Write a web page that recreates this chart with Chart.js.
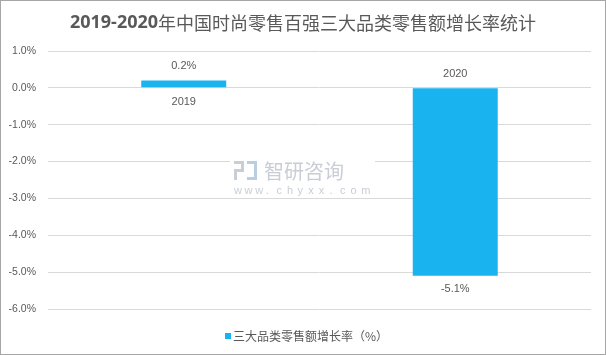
<!DOCTYPE html>
<html>
<head>
<meta charset="utf-8">
<script src="https://cdn.jsdelivr.net/npm/chart.js@4/dist/chart.umd.min.js"></script>
<style>
html,body{margin:0;padding:0;background:#fff;}
#wrap{width:606px;height:355px;position:relative;}
</style>
</head>
<body>
<div id="wrap"><canvas id="c" width="606" height="355"></canvas></div>
<script>
const titleText = '2019-2020年中国时尚零售百强三大品类零售额增长率统计';
const categories = ['2019', '2020'];
const seriesName = '三大品类零售额增长率（%）';
const growthRates = [0.2, -5.1];
const yTicks = [1, 0, -1, -2, -3, -4, -5, -6];

const textColor = '#595959';
const barColor = '#19B3EF';
const sansFont = '"Liberation Sans", "DejaVu Sans", sans-serif';
const cjkFont = '"Noto Sans CJK SC", "Liberation Sans", sans-serif';

const decorPlugin = {
  id: 'decor',
  beforeDatasetsDraw(chart) {
    const ctx = chart.ctx;
    // watermark
    ctx.save();
    ctx.fillStyle = '#fff';
    ctx.fillRect(230, 156, 145, 42);
    ctx.fillStyle = '#c9cdd5';
    // simple logo
    ctx.fillRect(234, 161, 10, 3);
    ctx.fillRect(241, 161, 3, 11);
    ctx.fillRect(234, 169, 10, 3);
    ctx.fillRect(234, 169, 3, 11);
    ctx.fillStyle = '#b9cde3';
    ctx.fillRect(247, 161, 10, 3);
    ctx.fillRect(254, 161, 3, 19);
    ctx.fillRect(247, 177, 10, 3);
    ctx.fillStyle = '#c9cdd5';
    ctx.font = '20px ' + cjkFont;
    ctx.textBaseline = 'middle';
    ctx.textAlign = 'left';
    ctx.fillText('智研咨询', 264, 171);
    ctx.font = '11px ' + sansFont;
    const w = 'www.chyxx.com';
    let x = 234;
    for (const ch of w) { ctx.fillText(ch, x, 191); x += 10.6; }
    ctx.restore();
  },
  afterDraw(chart) {
    const ctx = chart.ctx;
    const xs = chart.scales.x, ys = chart.scales.y;
    ctx.save();
    // title
    ctx.fillStyle = textColor;
    ctx.textBaseline = 'middle';
    const p1 = '2019-2020';
    const p2 = titleText.slice(p1.length);
    ctx.font = 'bold 18px "Open Sans", ' + sansFont;
    const w1 = ctx.measureText(p1).width;
    ctx.font = '18px ' + cjkFont;
    const w2 = ctx.measureText(p2).width;
    const start = 303 - (w1 + w2) / 2;
    ctx.textAlign = 'left';
    ctx.font = 'bold 18px "Open Sans", ' + sansFont;
    ctx.fillText(p1, start, 23);
    ctx.font = '18px ' + cjkFont;
    ctx.fillText(p2, start + w1, 23);

    // labels
    ctx.textAlign = 'center';
    ctx.font = '11px ' + sansFont;
    const zeroY = ys.getPixelForValue(0);
    growthRates.forEach((v, i) => {
      const cx = xs.getPixelForValue(i);
      const vy = ys.getPixelForValue(v);
      if (v >= 0) {
        ctx.fillText(v.toFixed(1) + '%', cx, vy - 15);
        ctx.fillText(categories[i], cx, zeroY + 14);
      } else {
        ctx.fillText(v.toFixed(1) + '%', cx, vy + 13);
        ctx.fillText(categories[i], cx, zeroY - 14);
      }
    });

    // legend
    ctx.fillStyle = barColor;
    ctx.fillRect(225, 333, 6, 6);
    ctx.fillStyle = textColor;
    ctx.textAlign = 'left';
    ctx.font = '12px ' + cjkFont;
    ctx.fillText(seriesName, 233, 336);

    // border
    ctx.strokeStyle = '#a6a6a6';
    ctx.lineWidth = 1;
    ctx.strokeRect(0.5, 0.5, 605, 354);
    ctx.restore();
  }
};

new Chart(document.getElementById('c'), {
  type: 'bar',
  data: {
    labels: categories,
    datasets: [{
      label: seriesName,
      data: growthRates,
      backgroundColor: barColor,
      borderWidth: 0,
      barPercentage: 0.313,
      categoryPercentage: 1
    }]
  },
  options: {
    responsive: false,
    animation: false,
    devicePixelRatio: 1,
    layout: { padding: { left: 0, right: 15, top: 51, bottom: 46 } },
    plugins: { legend: { display: false }, title: { display: false }, tooltip: { enabled: false } },
    scales: {
      x: { display: false, grid: { display: false } },
      y: {
        min: -6, max: 1,
        afterBuildTicks(scale) { scale.ticks = yTicks.map(v => ({ value: v })); },
        afterFit(scale) { scale.width = 48; },
        border: { display: false },
        grid: { color: '#d9d9d9', lineWidth: 1, drawTicks: false },
        ticks: {
          padding: 12,
          color: textColor,
          font: { size: 10.5, family: sansFont },
          callback: v => v.toFixed(1) + '%'
        }
      }
    }
  },
  plugins: [decorPlugin]
});
</script>
</body>
</html>
